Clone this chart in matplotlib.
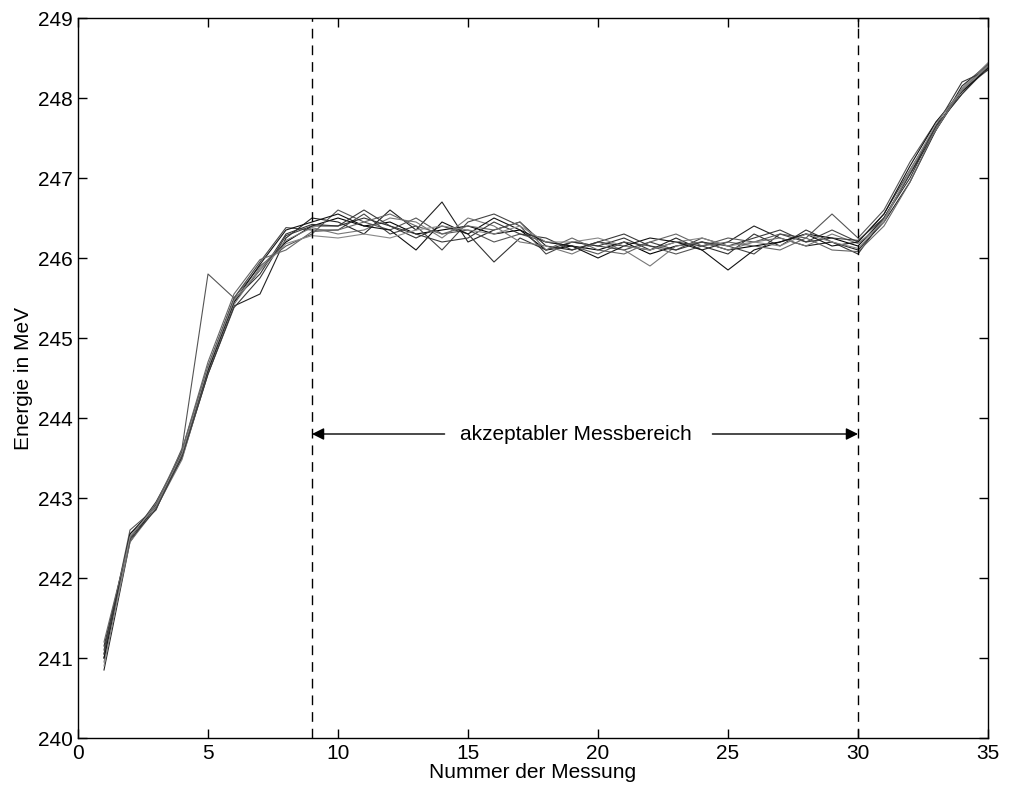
import matplotlib
matplotlib.use("Agg")
import matplotlib.pyplot as plt
import numpy as np

plt.rcParams['font.family'] = ['Liberation Sans', 'DejaVu Sans']

x = list(range(1, 36))

# Early part (x = 1..9), one row per measurement number, columns = series
early = [
    [241.0, 241.1, 240.85, 241.05, 241.15, 240.95, 241.0, 241.2, 241.05, 240.9],
    [242.5, 242.55, 242.45, 242.6, 242.5, 242.45, 242.55, 242.5, 242.48, 242.52],
    [242.9, 242.85, 242.92, 242.88, 242.95, 242.87, 242.9, 242.93, 242.86, 242.9],
    [243.55, 243.6, 243.5, 243.62, 243.55, 243.48, 243.58, 243.6, 243.52, 243.56],
    [244.6, 244.65, 244.55, 245.8, 244.62, 244.58, 244.6, 244.7, 244.55, 244.63],
    [245.45, 245.5, 245.4, 245.5, 245.48, 245.42, 245.45, 245.55, 245.38, 245.47],
    [245.85, 245.95, 245.55, 245.9, 245.8, 245.88, 245.92, 245.98, 245.75, 245.85],
    [246.2, 246.38, 246.25, 246.15, 246.3, 246.22, 246.35, 246.1, 246.28, 246.18],
    [246.4, 246.35, 246.5, 246.3, 246.42, 246.38, 246.45, 246.33, 246.4, 246.28],
]

# Middle part (x = 10..30), one list per series
mid_s1 = [246.5, 246.4, 246.45, 246.3, 246.35, 246.4, 246.3, 246.35, 246.1, 246.15, 246.1, 246.2, 246.05, 246.15, 246.2, 246.1, 246.15, 246.2, 246.3, 246.25, 246.15]
mid_s2 = [246.35, 246.55, 246.3, 246.4, 246.1, 246.45, 246.55, 246.4, 246.05, 246.2, 246.15, 246.1, 246.2, 246.1, 246.25, 246.15, 246.05, 246.3, 246.2, 246.35, 246.2]
mid_s3 = [246.45, 246.3, 246.6, 246.35, 246.7, 246.2, 246.35, 246.45, 246.15, 246.1, 246.2, 246.15, 246.1, 246.25, 246.1, 246.2, 246.4, 246.25, 246.15, 246.2, 246.1]
mid_s4 = [246.6, 246.45, 246.35, 246.5, 246.3, 246.35, 246.2, 246.3, 246.2, 246.15, 246.05, 246.2, 246.15, 246.05, 246.15, 246.25, 246.2, 246.3, 246.25, 246.55, 246.25]
mid_s5 = [246.4, 246.5, 246.4, 246.25, 246.4, 246.3, 245.95, 246.25, 246.1, 246.2, 246.15, 246.25, 246.1, 246.2, 246.15, 246.05, 246.3, 246.15, 246.35, 246.2, 246.05]
mid_s6 = [246.3, 246.35, 246.5, 246.45, 246.25, 246.5, 246.4, 246.2, 246.15, 246.05, 246.2, 246.1, 245.9, 246.15, 246.2, 246.1, 246.2, 246.25, 246.15, 246.3, 246.18]
mid_s7 = [246.55, 246.4, 246.35, 246.1, 246.45, 246.3, 246.5, 246.35, 246.2, 246.15, 246.0, 246.15, 246.25, 246.2, 246.1, 245.85, 246.1, 246.2, 246.3, 246.15, 246.2]
mid_s8 = [246.35, 246.45, 246.55, 246.4, 246.3, 246.4, 246.35, 246.45, 246.1, 246.25, 246.1, 246.05, 246.2, 246.3, 246.15, 246.2, 246.15, 246.1, 246.25, 246.1, 246.08]
mid_s9 = [246.4, 246.6, 246.4, 246.3, 246.2, 246.25, 246.45, 246.3, 246.25, 246.1, 246.2, 246.3, 246.15, 246.1, 246.2, 246.15, 246.25, 246.35, 246.2, 246.25, 246.22]
mid_s10 = [246.25, 246.3, 246.25, 246.35, 246.4, 246.35, 246.3, 246.4, 246.2, 246.2, 246.25, 246.15, 246.1, 246.2, 246.25, 246.15, 246.2, 246.15, 246.3, 246.2, 246.12]

# End part (x = 31..35)
end_s1 = [246.5, 247.05, 247.6, 248.1, 248.4]
end_s2 = [246.55, 247.1, 247.65, 248.05, 248.38]
end_s3 = [246.45, 246.95, 247.6, 248.15, 248.42]
end_s4 = [246.6, 247.2, 247.7, 248.1, 248.35]
end_s5 = [246.5, 247.0, 247.65, 248.05, 248.4]
end_s6 = [246.45, 247.1, 247.6, 248.12, 248.44]
end_s7 = [246.55, 247.15, 247.7, 248.08, 248.37]
end_s8 = [246.4, 246.95, 247.62, 248.1, 248.42]
end_s9 = [246.5, 247.05, 247.65, 248.2, 248.35]
end_s10 = [246.48, 247.08, 247.68, 248.1, 248.4]

mids = [mid_s1, mid_s2, mid_s3, mid_s4, mid_s5, mid_s6, mid_s7, mid_s8, mid_s9, mid_s10]
ends = [end_s1, end_s2, end_s3, end_s4, end_s5, end_s6, end_s7, end_s8, end_s9, end_s10]

range_start = 9
range_end = 30
label_text = "akzeptabler Messbereich"

colors = ['#000000', '#444444', '#222222', '#555555', '#333333',
          '#777777', '#111111', '#666666', '#3a3a3a', '#888888']

fs = 15

fig = plt.figure(figsize=(10.09, 7.91), dpi=100)
ax = fig.add_axes([78/1009, 53/791, 910/1009, 720/791])

for i in range(10):
    series = [row[i] for row in early] + mids[i] + ends[i]
    ax.plot(x, series, color=colors[i], lw=0.8)

for xv in (range_start, range_end):
    ax.axvline(xv, color='k', lw=1.0, linestyle=(0, (7, 5)))

ax.annotate('', xy=(range_start, 243.8), xytext=(14.1, 243.8),
            arrowprops=dict(arrowstyle='-|>', color='k', lw=1.0,
                            mutation_scale=18, shrinkA=0, shrinkB=0))
ax.annotate('', xy=(range_end, 243.8), xytext=(24.4, 243.8),
            arrowprops=dict(arrowstyle='-|>', color='k', lw=1.0,
                            mutation_scale=18, shrinkA=0, shrinkB=0))
ax.text(19.15, 243.8, label_text, ha='center', va='center', fontsize=fs)

ax.set_xlim(0, 35)
ax.set_ylim(240, 249)
ax.set_xticks(range(0, 36, 5))
ax.set_yticks(range(240, 250))
ax.tick_params(direction='in', length=6.5, width=1, top=True, right=True,
               labelsize=fs, pad=4)
for sp in ax.spines.values():
    sp.set_linewidth(1)
ax.set_xlabel("Nummer der Messung", fontsize=fs, labelpad=0)
ax.set_ylabel("Energie in MeV", fontsize=fs, labelpad=3)

fig.savefig("out.png", dpi=100)
